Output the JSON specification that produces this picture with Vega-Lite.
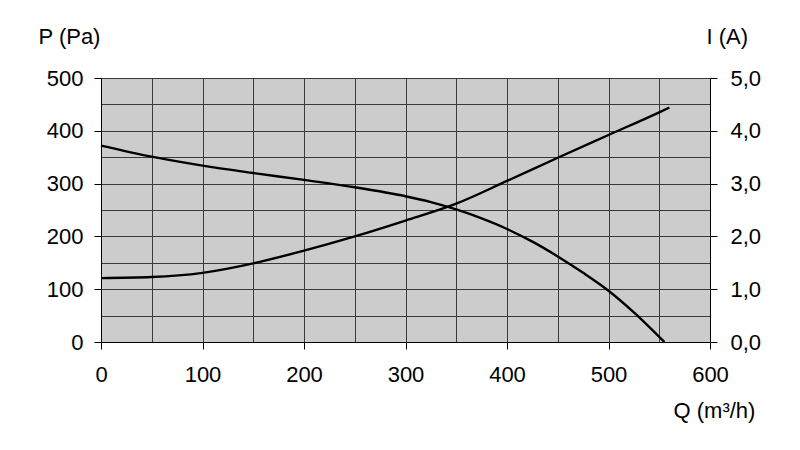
{
  "$schema": "https://vega.github.io/schema/vega-lite/v6.json",
  "width": 609,
  "height": 264,
  "autosize": "none",
  "padding": {"left": 101, "top": 78, "right": 90, "bottom": 108},
  "background": "white",
  "config": {
    "view": {"fill": "#cccccc", "stroke": "#000000", "strokeWidth": 1},
    "axis": {
      "labelFont": "Liberation Sans",
      "titleFont": "Liberation Sans",
      "labelFontSize": 22,
      "titleFontSize": 22,
      "labelColor": "#000000",
      "titleColor": "#000000",
      "titleFontWeight": "normal",
      "domainColor": "#000000",
      "tickColor": "#000000",
      "gridColor": "#3a3a3a",
      "gridOpacity": 1,
      "gridWidth": 1,
      "tickSize": 7,
      "labelFlush": false
    }
  },
  "layer": [
    {
      "data": {"values": [
        {"Q": 0, "P": 372}, {"Q": 50, "P": 351}, {"Q": 100, "P": 334}, {"Q": 150, "P": 320},
        {"Q": 200, "P": 307}, {"Q": 250, "P": 293}, {"Q": 300, "P": 276}, {"Q": 325, "P": 265},
        {"Q": 350, "P": 251}, {"Q": 375, "P": 234}, {"Q": 400, "P": 214}, {"Q": 425, "P": 190},
        {"Q": 450, "P": 162}, {"Q": 475, "P": 131}, {"Q": 500, "P": 97}, {"Q": 525, "P": 56},
        {"Q": 555, "P": 0}
      ]},
      "mark": {"type": "line", "color": "#000000", "strokeWidth": 2.4, "interpolate": "monotone"},
      "encoding": {
        "x": {
          "field": "Q", "type": "quantitative",
          "scale": {"domain": [0, 600], "nice": false},
          "axis": {
            "values": [0, 50, 100, 150, 200, 250, 300, 350, 400, 450, 500, 550, 600],
            "labelExpr": "datum.value % 100 === 0 ? datum.label : ''",
            "tickOpacity": {"condition": {"test": "datum.value % 100 !== 0", "value": 0}, "value": 1},
            "grid": true,
            "labelPadding": 15,
            "title": "Q (m³/h)",
            "titleAlign": "left",
            "titleBaseline": "middle",
            "titleX": 572,
            "titleY": 68
          }
        },
        "y": {
          "field": "P", "type": "quantitative",
          "scale": {"domain": [0, 500], "nice": false},
          "axis": {
            "values": [0, 50, 100, 150, 200, 250, 300, 350, 400, 450, 500],
            "labelExpr": "datum.value % 100 === 0 ? datum.label : ''",
            "tickOpacity": {"condition": {"test": "datum.value % 100 !== 0", "value": 0}, "value": 1},
            "grid": true,
            "labelPadding": 11,
            "title": "P (Pa)",
            "titleAngle": 0,
            "titleAlign": "left",
            "titleBaseline": "middle",
            "titleX": -63,
            "titleY": -42
          }
        }
      }
    },
    {
      "data": {"values": [
        {"Q": 0, "I": 1.21}, {"Q": 50, "I": 1.23}, {"Q": 100, "I": 1.31}, {"Q": 150, "I": 1.49},
        {"Q": 200, "I": 1.73}, {"Q": 250, "I": 2.0}, {"Q": 300, "I": 2.3}, {"Q": 350, "I": 2.62},
        {"Q": 400, "I": 3.05}, {"Q": 450, "I": 3.49}, {"Q": 500, "I": 3.92}, {"Q": 550, "I": 4.35},
        {"Q": 560, "I": 4.44}
      ]},
      "mark": {"type": "line", "color": "#000000", "strokeWidth": 2.4, "interpolate": "monotone"},
      "encoding": {
        "x": {"field": "Q", "type": "quantitative"},
        "y": {
          "field": "I", "type": "quantitative",
          "scale": {"domain": [0, 5], "nice": false},
          "axis": {
            "orient": "right",
            "values": [0, 1, 2, 3, 4, 5],
            "labelExpr": "replace(format(datum.value, '.1f'), '.', ',')",
            "grid": false,
            "labelPadding": 13,
            "title": "I (A)",
            "titleAngle": 0,
            "titleAlign": "left",
            "titleBaseline": "middle",
            "titleX": -4,
            "titleY": -42
          }
        }
      }
    }
  ],
  "resolve": {"scale": {"y": "independent"}}
}
